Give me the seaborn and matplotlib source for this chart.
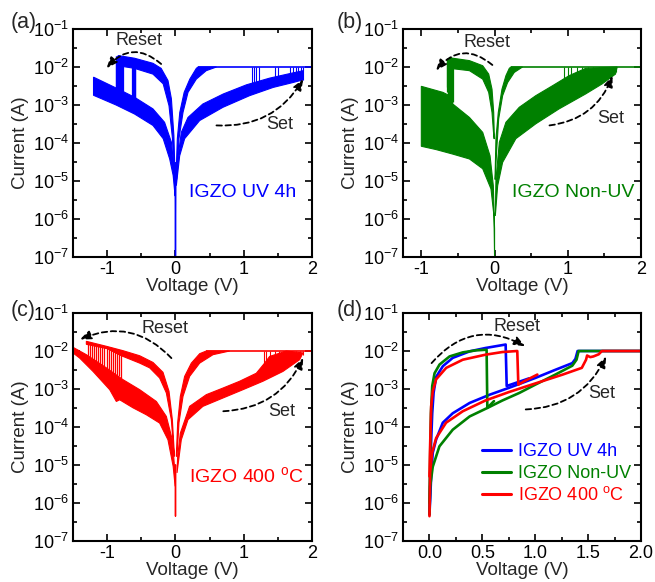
import numpy as np
import pandas as pd
import matplotlib
matplotlib.use("Agg")
import matplotlib.pyplot as plt
from matplotlib.ticker import FixedLocator, NullFormatter
import seaborn as sns

BLUE, GREEN, RED = "#0000ff", "#008000", "#ff0000"

# ---------------- data (V, I) ----------------
# (a) IGZO UV 4h
a_lrs_neg = [(-0.84, 2.0e-2), (-0.60, 1.7e-2), (-0.33, 1.25e-2), (-0.21, 9.2e-3), (-0.11, 4.4e-3),
             (-0.06, 1.45e-3), (-0.024, 1.6e-4), (-0.005, 1.1e-5), (-0.02, 1.1e-5), (-0.044, 1.3e-4),
             (-0.095, 9.6e-4), (-0.18, 3.6e-3), (-0.33, 6.5e-3), (-0.60, 9.2e-3), (-0.84, 1.08e-2)]
a_hrs_neg = [(-1.20, 5.4e-3), (-0.87, 2.8e-3), (-0.60, 1.6e-3), (-0.33, 7.9e-4), (-0.16, 3.5e-4),
             (-0.06, 1.05e-4), (-0.02, 2.1e-5), (-0.005, 4e-6), (-0.015, 6e-6), (-0.034, 1.4e-5),
             (-0.085, 3.8e-5), (-0.18, 1.3e-4), (-0.33, 2.9e-4), (-0.60, 5.8e-4), (-0.87, 1e-3), (-1.20, 1.8e-3)]
a_lrs_pos = [(0.007, 1.1e-5), (0.027, 1.3e-4), (0.063, 6.4e-4), (0.127, 2.15e-3), (0.21, 4.8e-3),
             (0.305, 9.2e-3), (0.33, 1e-2), (0.60, 1e-2), (0.45, 8e-3), (0.305, 4.8e-3), (0.183, 2.15e-3),
             (0.11, 6.4e-4), (0.051, 1.3e-4), (0.017, 1.1e-5)]
a_hrs_pos = [(0.012, 7.5e-6), (0.061, 4.6e-5), (0.134, 1.3e-4), (0.354, 3.9e-4), (0.695, 8.7e-4),
             (1.085, 1.76e-3), (1.43, 2.9e-3), (1.72, 3.9e-3), (1.87, 4.6e-3), (1.87, 8e-3), (1.72, 7.0e-3),
             (1.38, 5.1e-3), (1.04, 3.4e-3), (0.70, 1.95e-3), (0.40, 1.06e-3), (0.183, 4.7e-4),
             (0.085, 1.9e-4), (0.027, 3.1e-5)]
a_spike = [(-0.006, 3e-5), (0.0, 1e-7), (0.006, 3e-5)]
a_reset_v = [-0.87, -0.865, -0.86, -0.85, -0.845, -0.84, -0.83, -0.82, -0.81, -0.80, -0.79, -0.78,
             -0.77, -0.63, -0.62, -0.61, -0.60, -0.59]
a_reset_top = [1.95e-2, 1.95e-2, 1.9e-2, 1.9e-2, 1.9e-2, 1.85e-2, 1.85e-2, 1.8e-2, 1.8e-2, 1.8e-2,
               1.75e-2, 1.75e-2, 1.7e-2, 1.5e-2, 1.5e-2, 1.5e-2, 1.45e-2, 1.45e-2]
a_reset_bot = [2.8e-3, 2.7e-3, 2.7e-3, 2.6e-3, 2.6e-3, 2.5e-3, 2.4e-3, 2.4e-3, 2.3e-3, 2.3e-3,
               2.2e-3, 2.2e-3, 2.1e-3, 1.7e-3, 1.6e-3, 1.6e-3, 1.5e-3, 1.4e-3]
a_set_v = [1.12, 1.15, 1.18, 1.22, 1.45, 1.50, 1.68, 1.72, 1.76, 1.80, 1.84, 1.87]
a_set_bot = [3.4e-3, 3.5e-3, 3.7e-3, 3.8e-3, 5.2e-3, 5.4e-3, 6.5e-3, 6.8e-3, 7e-3, 7.2e-3, 7.5e-3, 4.6e-3]
a_cc = (0.33, 2.0)

# (b) IGZO Non-UV
b_lrs_neg = [(-0.615, 1.8e-2), (-0.57, 1.7e-2), (-0.343, 1.47e-2), (-0.162, 1.08e-2), (-0.08, 6.5e-3),
             (-0.035, 2.6e-3), (-0.012, 6.4e-4), (-0.003, 1.3e-4), (-0.008, 1.3e-4), (-0.035, 6.4e-4),
             (-0.08, 2.15e-3), (-0.162, 4.8e-3), (-0.343, 8e-3), (-0.547, 8.9e-3), (-0.615, 8.9e-3)]
b_hrs_neg = [(-1.0, 3.1e-3), (-0.706, 2.15e-3), (-0.615, 1.76e-3), (-0.57, 1.06e-3), (-0.343, 4.7e-4),
             (-0.162, 1.9e-4), (-0.062, 4.6e-5), (-0.017, 7.5e-6), (0.0, 5.5e-7), (0.0, 1e-7),
             (-0.008, 1.2e-6), (-0.049, 6.2e-6), (-0.162, 2.1e-5), (-0.343, 3.8e-5), (-0.57, 5.1e-5),
             (-0.797, 6.7e-5), (-1.0, 8.2e-5)]
b_lrs_pos = [(0.006, 1.1e-5), (0.019, 1.3e-4), (0.051, 6.4e-4), (0.101, 2.6e-3), (0.155, 5.9e-3),
             (0.201, 9.2e-3), (0.223, 1e-2), (0.382, 1e-2), (0.269, 7.2e-3), (0.178, 3.9e-3),
             (0.11, 1.76e-3), (0.056, 4.3e-4), (0.024, 4.6e-5), (0.01, 1.1e-5)]
b_hrs_pos = [(0.01, 1.2e-6), (0.042, 7.5e-6), (0.11, 3.1e-5), (0.291, 1.3e-4), (0.563, 3.2e-4),
             (0.881, 7.9e-4), (1.243, 1.95e-3), (1.47, 3.6e-3), (1.651, 6.5e-3), (1.674, 1e-2),
             (1.243, 9.2e-3), (1.017, 5.9e-3), (0.79, 3.2e-3), (0.563, 1.76e-3), (0.337, 8.7e-4),
             (0.155, 3.5e-4), (0.065, 1.04e-4), (0.019, 1.1e-5)]
b_reset_v = [-0.65, -0.645, -0.64, -0.635, -0.63, -0.625, -0.62, -0.615, -0.61, -0.605, -0.60,
             -0.595, -0.59, -0.585, -0.58, -0.575, -0.57]
b_reset_top = [1.6e-2, 1.7e-2, 1.7e-2, 1.75e-2, 1.75e-2, 1.8e-2, 1.8e-2, 1.8e-2, 1.8e-2, 1.75e-2,
               1.75e-2, 1.7e-2, 1.7e-2, 1.7e-2, 1.65e-2, 1.65e-2, 1.6e-2]
b_reset_bot = [3e-3, 2.2e-3, 1.5e-3, 2.6e-3, 8e-4, 1.9e-3, 1.2e-3, 2e-3, 4e-4, 1.7e-3, 1e-3,
               2.4e-3, 2.5e-4, 1.8e-3, 6e-4, 1.4e-3, 1.2e-3]
b_set_v = [0.95, 1.0, 1.05, 1.12, 1.2, 1.28, 1.35, 1.42, 1.5, 1.56, 1.62, 1.66]
b_set_bot = [4.5e-3, 5e-3, 5.5e-3, 5.5e-3, 6e-3, 6e-3, 6e-3, 5.5e-3, 5.5e-3, 6e-3, 6.5e-3, 7.5e-3]
b_cc = (0.22, 2.0)

# (c) IGZO 400 C
c_lrs_neg = [(-1.305, 1.8e-2), (-1.012, 1.33e-2), (-0.768, 1.02e-2), (-0.524, 7.5e-3), (-0.329, 5e-3),
             (-0.183, 2.75e-3), (-0.095, 8.7e-4), (-0.046, 1.56e-4), (-0.015, 1.7e-5), (-0.02, 1.7e-5),
             (-0.061, 1.56e-4), (-0.134, 7.9e-4), (-0.232, 1.95e-3), (-0.378, 3.6e-3), (-0.524, 4.8e-3),
             (-0.768, 7.2e-3), (-0.793, 7.5e-3), (-1.0, 1.15e-2), (-1.305, 1.5e-2)]
c_hrs_neg = [(-1.5, 1.25e-2), (-1.305, 8e-3), (-1.012, 3.6e-3), (-0.768, 1.76e-3), (-0.524, 9.6e-4),
             (-0.28, 4.7e-4), (-0.134, 1.9e-4), (-0.046, 4.6e-5), (-0.015, 9.2e-6), (-0.005, 2.75e-6),
             (-0.034, 9.2e-6), (-0.11, 4.6e-5), (-0.232, 1.27e-4), (-0.427, 2.1e-4), (-0.622, 3.2e-4),
             (-0.817, 5.2e-4), (-0.866, 4.7e-4), (-0.963, 9.6e-4), (-1.207, 2.9e-3), (-1.402, 6.5e-3),
             (-1.5, 8.9e-3)]
c_lrs_pos = [(0.012, 1.7e-5), (0.032, 1.3e-4), (0.071, 6.4e-4), (0.134, 2.15e-3), (0.232, 4.8e-3),
             (0.354, 8.5e-3), (0.451, 1e-2), (0.793, 1e-2), (0.549, 8e-3), (0.354, 4.8e-3),
             (0.207, 2.15e-3), (0.11, 6.4e-4), (0.051, 1.3e-4), (0.022, 1.7e-5)]
c_hrs_pos = [(0.022, 6.2e-6), (0.085, 4.6e-5), (0.183, 1.56e-4), (0.402, 3.5e-4), (0.695, 5.8e-4),
             (0.988, 9.6e-4), (1.28, 1.6e-3), (1.573, 2.9e-3), (1.817, 5.9e-3), (1.866, 8.9e-3),
             (1.622, 1e-2), (1.378, 7.2e-3), (1.305, 4.8e-3), (1.183, 2.6e-3), (0.939, 1.6e-3),
             (0.695, 1.06e-3), (0.451, 7.1e-4), (0.207, 3.5e-4), (0.071, 6.9e-5), (0.032, 1.7e-5)]
c_spike = [(-0.004, 1e-5), (0.0, 4.5e-7), (0.004, 1e-5)]
c_reset_v = [-1.28, -1.25, -1.22, -1.19, -1.16, -1.13, -1.10, -1.07, -1.04, -1.01, -0.98, -0.95,
             -0.92, -0.89, -0.86, -0.83, -0.80]
c_reset_top = [1.75e-2, 1.7e-2, 1.62e-2, 1.57e-2, 1.52e-2, 1.48e-2, 1.44e-2, 1.4e-2, 1.36e-2, 1.32e-2,
               1.28e-2, 1.24e-2, 1.2e-2, 1.16e-2, 1.12e-2, 1.08e-2, 1.05e-2]
c_reset_bot = [7.5e-3, 6.8e-3, 6.2e-3, 5.6e-3, 5.1e-3, 4.7e-3, 4.3e-3, 4e-3, 3.7e-3, 3.4e-3,
               3.2e-3, 2.9e-3, 2.7e-3, 2.5e-3, 5e-4, 2.2e-3, 2.0e-3]
c_set_v = [1.30, 1.33, 1.38, 1.45, 1.52, 1.58, 1.64, 1.70, 1.76, 1.82, 1.86]
c_set_bot = [4.5e-3, 5e-3, 4.5e-3, 4e-3, 4.5e-3, 5e-3, 5.5e-3, 6e-3, 6.5e-3, 7e-3, 8e-3]
c_cc = (0.45, 2.0)

# (d) one representative cycle per sample
d_blue_reset_v = [0.0, 0.014, 0.026, 0.039, 0.064, 0.127, 0.22, 0.38, 0.53, 0.72, 0.73, 0.94]
d_blue_reset_i = [5e-7, 3.1e-5, 2.3e-4, 8e-4, 2.1e-3, 4e-3, 6.6e-3, 9.8e-3, 1.2e-2, 1.48e-2, 1.2e-3, 1.9e-3]
d_blue_set_v = [0.0, 0.019, 0.031, 0.063, 0.126, 0.22, 0.38, 0.57, 0.75, 1.0, 1.19, 1.35, 1.38, 1.40, 2.0]
d_blue_set_i = [5e-7, 7.6e-6, 2.1e-5, 4.7e-5, 1.3e-4, 2.3e-4, 4.3e-4, 7.1e-4, 1.07e-3, 1.95e-3, 3.2e-3,
                4.8e-3, 6.2e-3, 1e-2, 1e-2]
d_green_reset_v = [0.0, 0.007, 0.014, 0.026, 0.048, 0.095, 0.19, 0.315, 0.44, 0.54, 0.547, 0.61]
d_green_reset_i = [1e-6, 2.1e-5, 2.3e-4, 1.2e-3, 2.6e-3, 4.4e-3, 7.2e-3, 9.2e-3, 1.04e-2, 1.08e-2, 3.2e-4, 4.8e-4]
d_green_set_v = [0.0, 0.007, 0.031, 0.094, 0.22, 0.38, 0.55, 0.69, 0.85, 1.0, 1.19, 1.35, 1.39, 1.41, 2.0]
d_green_set_i = [5e-7, 2.8e-6, 9e-6, 3.1e-5, 8.5e-5, 1.9e-4, 3.2e-4, 5e-4, 7.9e-4, 1.3e-3, 2.4e-3, 4.1e-3,
                 5.9e-3, 1e-2, 1e-2]
d_red_reset_v = [0.0, 0.006, 0.016, 0.031, 0.063, 0.158, 0.315, 0.53, 0.69, 0.83, 0.84, 0.895, 1.02]
d_red_reset_i = [5e-6, 3.1e-5, 3.5e-4, 8.7e-4, 1.8e-3, 3.6e-3, 5.9e-3, 8e-3, 9.4e-3, 1e-2, 1.3e-3, 1.6e-3, 2.4e-3]
d_red_set_v = [0.0, 0.006, 0.025, 0.063, 0.157, 0.315, 0.53, 0.75, 1.0, 1.26, 1.44, 1.48, 1.49, 1.52,
               1.55, 1.60, 1.63, 2.0]
d_red_set_i = [4.5e-7, 6.2e-6, 2.1e-5, 5.1e-5, 1.3e-4, 2.6e-4, 5e-4, 8.3e-4, 1.4e-3, 2.4e-3, 3.6e-3, 5.9e-3,
               7.6e-3, 6.9e-3, 7.2e-3, 8.2e-3, 1e-2, 1e-2]

samples = ["IGZO UV 4h", "IGZO Non-UV", "IGZO 400 $^{\\rm o}$C"]

decades = [1e-7, 1e-6, 1e-5, 1e-4, 1e-3, 1e-2, 1e-1]
decade_labels = ["10$^{-7}$", "10$^{-6}$", "10$^{-5}$", "10$^{-4}$", "10$^{-3}$", "10$^{-2}$", "10$^{-1}$"]

# ---------------- style ----------------
sns.set_theme(style="ticks")
plt.rcParams["font.family"] = ["Liberation Sans", "DejaVu Sans"]
plt.rcParams["mathtext.fontset"] = "custom"
plt.rcParams["mathtext.rm"] = "Liberation Sans"
plt.rcParams["mathtext.it"] = "Liberation Sans:italic"
plt.rcParams["mathtext.default"] = "regular"

fig = plt.figure(figsize=(6.55, 5.82), dpi=100)
ax_a = fig.add_axes([0.1115, 0.5584, 0.365, 0.3918])
ax_b = fig.add_axes([0.6153, 0.5584, 0.3634, 0.3918])
ax_c = fig.add_axes([0.1115, 0.0704, 0.365, 0.3918])
ax_d = fig.add_axes([0.6153, 0.0704, 0.3634, 0.3918])


def style_axis(ax, xlim, xmajor, xlabels, xminor):
    ax.set_yscale("log")
    ax.set_ylim(1e-7, 1e-1)
    ax.set_xlim(*xlim)
    ax.set_yticks(decades)
    ax.set_yticklabels(decade_labels)
    ax.yaxis.set_minor_locator(FixedLocator([d * 10 ** 0.5 for d in decades[:-1]]))
    ax.yaxis.set_minor_formatter(NullFormatter())
    ax.set_xticks(xmajor)
    ax.set_xticklabels(xlabels)
    ax.xaxis.set_minor_locator(FixedLocator(xminor))
    ax.tick_params(which="both", direction="in", top=True, right=True, width=1.2,
                   labelsize=13, pad=3, colors="black")
    ax.tick_params(which="major", length=5)
    ax.tick_params(which="minor", length=3)
    for s in ax.spines.values():
        s.set_linewidth(1.5)
        s.set_color("black")
    ax.set_xlabel("Voltage (V)", fontsize=13.5, labelpad=0)
    ax.set_ylabel("Current (A)", fontsize=13.5, labelpad=3)


def band(ax, pts, color):
    v, i = zip(*pts)
    ax.fill(v, i, color=color, ec=color, lw=0.8)


def dashed_arrow(ax, start, end, rad):
    ax.annotate("", xy=end, xytext=start,
                arrowprops=dict(arrowstyle="-|>,head_length=0.55,head_width=0.22", lw=1.3,
                                ls=(0, (3, 2)), color="black", shrinkA=0, shrinkB=0,
                                connectionstyle=f"arc3,rad={rad}"))


def cycles_panel(ax, color, bands, reset, sets, cc, spike):
    for pts in bands:
        band(ax, pts, color)
    ax.vlines(reset[0], reset[2], reset[1], color=color, lw=0.9)
    ax.vlines(sets[0], sets[1], 1e-2, color=color, lw=0.8)
    ax.hlines(1e-2, cc[0], cc[1], color=color, lw=1.2)
    if spike:
        sv, si = zip(*spike)
        ax.plot(sv, si, color=color, lw=1.0)


# (a)
cycles_panel(ax_a, BLUE, [a_hrs_neg, a_lrs_neg, a_hrs_pos, a_lrs_pos],
             (a_reset_v, a_reset_top, a_reset_bot), (a_set_v, a_set_bot), a_cc, a_spike)
style_axis(ax_a, (-1.5, 2.0), [-1, 0, 1, 2], ["-1", "0", "1", "2"], [-1.5, -0.5, 0.5, 1.5])
ax_a.text(0.98, 5e-6, samples[0], color=BLUE, fontsize=14, ha="center", va="center")
ax_a.text(-0.53, 5.1e-2, "Reset", fontsize=13, ha="center", va="center")
ax_a.text(1.52, 3.0e-4, "Set", fontsize=13, ha="center", va="center")
dashed_arrow(ax_a, (-0.21, 1.2e-2), (-1.01, 9.2e-3), 0.5)
dashed_arrow(ax_a, (0.60, 2.9e-4), (1.87, 4.8e-3), 0.3)

# (b)
cycles_panel(ax_b, GREEN, [b_hrs_neg, b_lrs_neg, b_hrs_pos, b_lrs_pos],
             (b_reset_v, b_reset_top, b_reset_bot), (b_set_v, b_set_bot), b_cc, None)
style_axis(ax_b, (-1.25, 2.0), [-1, 0, 1, 2], ["-1", "0", "1", "2"], [-0.5, 0.5, 1.5])
ax_b.text(1.07, 5e-6, samples[1], color=GREEN, fontsize=14, ha="center", va="center")
ax_b.text(-0.11, 4.5e-2, "Reset", fontsize=13, ha="center", va="center")
ax_b.text(1.58, 4.5e-4, "Set", fontsize=13, ha="center", va="center")
dashed_arrow(ax_b, (-0.03, 1.13e-2), (-0.80, 8e-3), 0.5)
dashed_arrow(ax_b, (0.75, 2.9e-4), (1.61, 5.9e-3), 0.3)

# (c)
cycles_panel(ax_c, RED, [c_hrs_neg, c_lrs_neg, c_hrs_pos, c_lrs_pos],
             (c_reset_v, c_reset_top, c_reset_bot), (c_set_v, c_set_bot), c_cc, c_spike)
style_axis(ax_c, (-1.5, 2.0), [-1, 0, 1, 2], ["-1", "0", "1", "2"], [-1.5, -0.5, 0.5, 1.5])
ax_c.text(1.04, 5e-6, samples[2], color=RED, fontsize=14, ha="center", va="center")
ax_c.text(-0.16, 3.8e-2, "Reset", fontsize=13, ha="center", va="center")
ax_c.text(1.55, 2.6e-4, "Set", fontsize=13, ha="center", va="center")
dashed_arrow(ax_c, (-0.06, 6.5e-3), (-1.40, 2.0e-2), 0.35)
dashed_arrow(ax_c, (0.70, 2.6e-4), (1.87, 6.6e-3), 0.3)

# (d)
parts = [
    (samples[0], "blue_reset", d_blue_reset_v, d_blue_reset_i),
    (samples[0], "blue_set", d_blue_set_v, d_blue_set_i),
    (samples[1], "green_reset", d_green_reset_v, d_green_reset_i),
    (samples[1], "green_set", d_green_set_v, d_green_set_i),
    (samples[2], "red_reset", d_red_reset_v, d_red_reset_i),
    (samples[2], "red_set", d_red_set_v, d_red_set_i),
]
df = pd.concat([pd.DataFrame({"V": v, "I": i, "sample": s, "branch": b}) for s, b, v, i in parts],
               ignore_index=True)
sns.lineplot(data=df, x="V", y="I", hue="sample", units="branch", estimator=None, sort=False,
             hue_order=samples, palette=[BLUE, GREEN, RED], lw=1.9, ax=ax_d)
style_axis(ax_d, (-0.25, 2.0), [0, 0.5, 1.0, 1.5, 2.0], ["0.0", "0.5", "1.0", "1.5", "2.0"],
           [0.25, 0.75, 1.25, 1.75])
ax_d.legend(frameon=False, loc="upper left", bbox_to_anchor=(0.30, 0.46), fontsize=13,
            handlelength=1.6, handletextpad=0.4, labelspacing=0.25, borderaxespad=0,
            labelcolor="linecolor")
for line in ax_d.get_legend().get_lines():
    line.set_linewidth(2.2)
ax_d.text(0.83, 4.5e-2, "Reset", fontsize=13, ha="center", va="center")
ax_d.text(1.63, 7.4e-4, "Set", fontsize=13, ha="center", va="center")
dashed_arrow(ax_d, (0.02, 4.8e-3), (0.905, 1.33e-2), -0.4)
dashed_arrow(ax_d, (0.91, 2.9e-4), (1.67, 7.2e-3), 0.3)

for lab, x, y in [("(a)", 0.016, 0.962), ("(b)", 0.514, 0.962), ("(c)", 0.016, 0.467), ("(d)", 0.514, 0.467)]:
    fig.text(x, y, lab, fontsize=15.5, ha="left", va="center")

fig.savefig("out.png", dpi=100)
